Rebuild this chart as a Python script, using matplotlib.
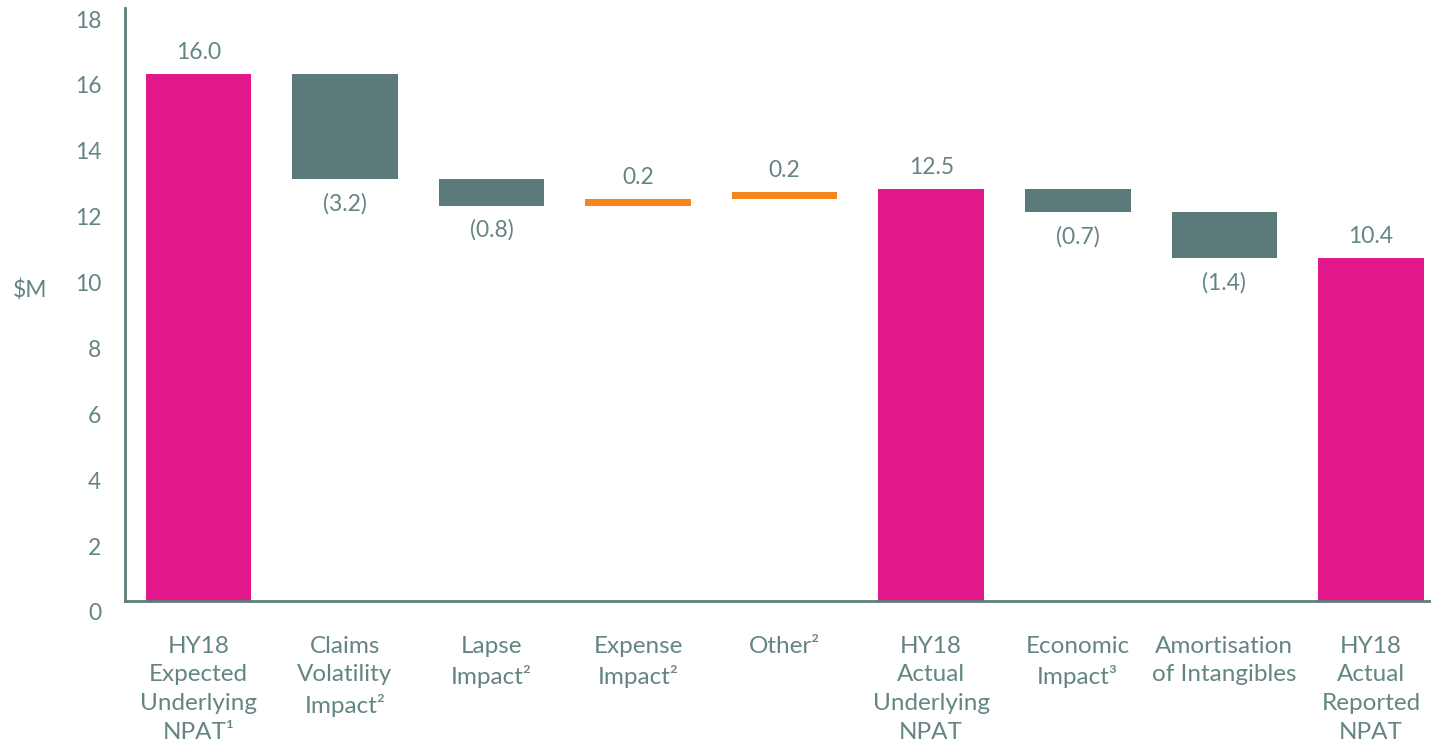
import matplotlib
matplotlib.use("Agg")
import matplotlib.pyplot as plt
import matplotlib.transforms as mtransforms

# Waterfall data ($M)
categories = [
    "HY18\nExpected\nUnderlying\nNPAT\u00b9",
    "Claims\nVolatility\nImpact\u00b2",
    "Lapse\nImpact\u00b2",
    "Expense\nImpact\u00b2",
    "Other\u00b2",
    "HY18\nActual\nUnderlying\nNPAT",
    "Economic\nImpact\u00b3",
    "Amortisation\nof Intangibles",
    "HY18\nActual\nReported\nNPAT",
]
values = [16.0, -3.2, -0.8, 0.2, 0.2, 12.5, -0.7, -1.4, 10.4]
is_total = [True, False, False, False, False, True, False, False, True]
value_labels = ["16.0", "(3.2)", "(0.8)", "0.2", "0.2", "12.5", "(0.7)", "(1.4)", "10.4"]
y_ticks = [0, 2, 4, 6, 8, 10, 12, 14, 16, 18]

PINK = "#E2188B"
SLATE = "#5A7B7A"
ORANGE = "#F5861F"
TEXT = "#648584"
AXIS = "#5E7D7C"

plt.rcParams["font.family"] = ["Lato", "DejaVu Sans"]

fig = plt.figure(figsize=(14.31, 7.43), dpi=100)
ax = fig.add_axes([125 / 1431, 142 / 743, 1 - 125 / 1431, (601 - 8) / 743])

running = 0.0
for i, (v, tot, lab) in enumerate(zip(values, is_total, value_labels)):
    if tot:
        bottom, height = 0.0, v
        color = PINK
        running = v
    else:
        bottom = running if v >= 0 else running + v
        height = abs(v)
        color = SLATE if v < 0 else ORANGE
        running += v
    ax.bar(i, height, bottom=bottom, width=0.72, color=color, edgecolor="none", zorder=2)
    if v >= 0:
        ax.annotate(lab, (i, bottom + height), xytext=(0, 8), textcoords="offset points",
                    ha="center", va="bottom", fontsize=16.5, color=TEXT)
    else:
        ax.annotate(lab, (i, bottom), xytext=(0, -10), textcoords="offset points",
                    ha="center", va="top", fontsize=16.5, color=TEXT)

ax.set_xlim(-0.5, 8.41)
ax.set_ylim(0, 18)
ax.set_yticks(y_ticks)
ax.set_yticklabels([str(t) for t in y_ticks])
ax.set_xticks(range(len(categories)))
ax.set_xticklabels(categories, linespacing=1.45)

ax.tick_params(axis="both", length=0, labelcolor=TEXT)
ax.tick_params(axis="y", pad=17, labelsize=16.5)
ax.tick_params(axis="x", pad=25, labelsize=17.5)

# tick labels sit slightly below their gridline positions
shift = mtransforms.ScaledTranslation(0, -11 / 100, fig.dpi_scale_trans)
for lbl in ax.get_yticklabels():
    lbl.set_transform(lbl.get_transform() + shift)

for side in ("top", "right"):
    ax.spines[side].set_visible(False)
for side in ("left", "bottom"):
    ax.spines[side].set_color(AXIS)
    ax.spines[side].set_linewidth(2)

fig.text(30 / 1431, 1 - 290 / 743, "$M", fontsize=16.5, color=TEXT, ha="center", va="center")

fig.savefig("out.png", dpi=100)
